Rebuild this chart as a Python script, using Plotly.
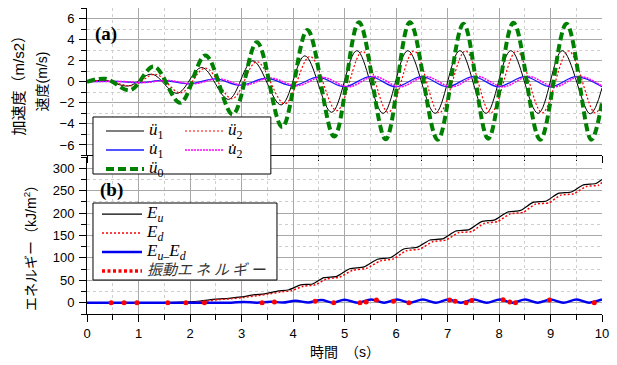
import plotly.graph_objects as go

# ---------------- data ----------------
# panel (a): extremes of each response curve
t_a1 = [0, 0.35, 0.81, 1.26, 1.75, 2.23, 2.75, 3.22, 3.77, 4.23, 4.75, 5.24, 5.75, 6.23, 6.76, 7.24, 7.75, 8.23, 8.76, 9.23, 9.77, 10.0]
a1 = [0, 0.12, -0.4, 0.72, -1.1, 1.35, -1.67, 1.98, -2.2, 2.46, -2.9, 2.95, -3.0, 2.95, -3.0, 2.95, -3.0, 2.95, -3.0, 2.95, -3.05, -0.6]

t_a2 = [0, 0.4, 0.88, 1.33, 1.82, 2.3, 2.82, 3.3, 3.84, 4.33, 4.85, 5.35, 5.85, 6.35, 6.84, 7.35, 7.84, 8.34, 8.84, 9.35, 9.86, 10.0]
a2 = [0, 0.1, -0.38, 0.7, -1.05, 1.3, -1.6, 1.9, -2.1, 2.4, -2.75, 2.88, -2.9, 2.92, -2.95, 2.92, -2.95, 2.92, -2.95, 2.92, -2.95, -2.2]

t_v1 = [0, 0.58, 1.03, 1.5, 1.99, 2.49, 2.98, 3.49, 4.0, 4.49, 5.0, 5.5, 5.99, 6.5, 7.0, 7.5, 7.99, 8.5, 9.0, 9.5, 10.0]
v1 = [0, 0.03, -0.08, 0.12, -0.2, 0.27, -0.33, 0.33, -0.38, 0.43, -0.48, 0.49, -0.48, 0.49, -0.48, 0.49, -0.48, 0.49, -0.48, 0.49, -0.48]

t_v2 = [0, 0.65, 1.1, 1.57, 2.06, 2.56, 3.05, 3.56, 4.07, 4.57, 5.08, 5.58, 6.08, 6.58, 7.08, 7.58, 8.08, 8.58, 9.08, 9.58, 10.0]
v2 = [0, 0.03, -0.08, 0.12, -0.2, 0.27, -0.33, 0.35, -0.38, 0.43, -0.48, 0.5, -0.48, 0.5, -0.48, 0.5, -0.48, 0.5, -0.48, 0.5, -0.42]

t_a0 = [0, 0.36, 0.84, 1.3, 1.81, 2.3, 2.83, 3.3, 3.79, 4.28, 4.8, 5.28, 5.8, 6.27, 6.81, 7.31, 7.79, 8.28, 8.8, 9.31, 9.79, 10.0]
a0 = [0, 0.28, -0.8, 1.45, -2.0, 2.5, -3.1, 3.75, -4.3, 4.9, -5.2, 5.65, -5.45, 5.65, -5.5, 5.5, -5.4, 5.6, -5.5, 5.5, -5.5, -2.0]

# panel (b): energies
t_eu = [0, 1.5, 1.95, 2.2, 2.5, 2.75, 3.0, 3.25, 3.45, 3.7, 3.92, 4.15, 4.38, 4.6, 4.85, 5.1, 5.38, 5.64, 5.9,
        6.15, 6.42, 6.66, 6.92, 7.16, 7.42, 7.66, 7.92, 8.16, 8.42, 8.66, 8.92, 9.15, 9.4, 9.64, 9.88, 10.0]
eu = [0, 0, 2, 4, 8, 10, 13, 18, 20, 26, 29, 40, 42, 56, 59, 76, 80, 97, 101,
      120, 124, 140, 143, 160, 163, 181, 185, 202, 206, 224, 227, 244, 247, 263, 266, 275]

t_ed = [0, 1.5, 2.0, 2.25, 2.55, 2.8, 3.05, 3.3, 3.5, 3.75, 3.97, 4.2, 4.43, 4.65, 4.9, 5.15, 5.43, 5.69, 5.95,
        6.2, 6.47, 6.71, 6.97, 7.21, 7.47, 7.71, 7.97, 8.21, 8.47, 8.71, 8.97, 9.2, 9.45, 9.69, 9.93, 10.0]
ed = [0, 0, 1, 3, 7, 9, 12, 16, 19, 24, 27, 37, 40, 53, 57, 72, 77, 93, 98,
      116, 120, 136, 140, 156, 159, 177, 181, 198, 202, 220, 223, 240, 243, 259, 262, 268]

t_diff = [0, 2.5, 2.8, 3.05, 3.3, 3.57, 3.8, 4.05, 4.3, 4.55, 4.78, 5.0, 5.25, 5.52, 5.77, 6.02, 6.27, 6.52, 6.77,
          7.02, 7.26, 7.51, 7.76, 8.02, 8.26, 8.51, 8.75, 9.0, 9.25, 9.51, 9.75, 10.0]
diff = [0, 0, 0.3, 2, 0.3, 2.5, 0.5, 4.5, 0.7, 6, 0.3, 7, 0.3, 7.3, 0.3, 7.3, 0.3, 7.3, 0.3,
        7.3, 0.3, 7.3, 0.3, 7.3, 0.3, 7.3, 0.3, 7.3, 0.3, 7.3, 0.3, 7.3]

t_vib = [0.47, 0.72, 0.97, 1.57, 1.92, 2.28, 3.4, 3.64, 4.43, 4.79, 5.3, 5.42, 5.62, 5.95, 6.25,
         7.04, 7.15, 7.36, 7.47, 8.08, 8.21, 8.32, 8.98, 9.85]
vib = [0, 0, 0, 0, 0, 0, 0, 2, 3.7, 0, 0, 1.5, 6, 3.7, 0,
       6, 3.7, 0, 5, 6.7, 1.5, 0, 6, 0]

x_ticks = list(range(0, 11))

# ---------------- figure ----------------
SERIF = "Liberation Serif, Times New Roman, serif"
SANS = "Liberation Sans, Arial, Noto Sans CJK JP, sans-serif"
CJK = "Liberation Sans, Noto Sans CJK JP, sans-serif"


def lg(txt, size=17):
    return f'<span style="font-size:{size}px">{txt}</span>'


fig = go.Figure()

fig.add_trace(go.Scatter(x=t_a1, y=a1, mode="lines", line=dict(color="black", width=1, shape="spline"),
                         name=lg("<i>ü</i><sub>1</sub>"), legend="legend", xaxis="x", yaxis="y"))
fig.add_trace(go.Scatter(x=t_a2, y=a2, mode="lines", line=dict(color="red", width=1.2, dash="2px,2px", shape="spline"),
                         name=lg("<i>ü</i><sub>2</sub>"), legend="legend2", xaxis="x", yaxis="y"))
fig.add_trace(go.Scatter(x=t_v1, y=v1, mode="lines", line=dict(color="#1a1aff", width=1.3, shape="spline"),
                         name=lg("<i>u\u0307</i><sub>1</sub>"), legend="legend", xaxis="x", yaxis="y"))
fig.add_trace(go.Scatter(x=t_v2, y=v2, mode="lines", line=dict(color="#ff00ff", width=1.5, dash="2px,1px", shape="spline"),
                         name=lg("<i>u\u0307</i><sub>2</sub>"), legend="legend2", xaxis="x", yaxis="y"))
fig.add_trace(go.Scatter(x=t_a0, y=a0, mode="lines", line=dict(color="#008000", width=4, dash="8px,4px", shape="spline"),
                         name=lg("<i>ü</i><sub>0</sub>"), legend="legend", xaxis="x", yaxis="y"))

fig.add_trace(go.Scatter(x=t_eu, y=eu, mode="lines", line=dict(color="black", width=1.2, shape="spline", smoothing=0.6),
                         name=lg("<i>E</i><sub><i>u</i></sub>"), legend="legend3", xaxis="x2", yaxis="y2"))
fig.add_trace(go.Scatter(x=t_ed, y=ed, mode="lines", line=dict(color="red", width=1.5, dash="2px,2px", shape="spline", smoothing=0.6),
                         name=lg("<i>E</i><sub><i>d</i></sub>"), legend="legend3", xaxis="x2", yaxis="y2"))
fig.add_trace(go.Scatter(x=t_diff, y=diff, mode="lines", line=dict(color="#0000ee", width=2.5, shape="spline"),
                         name=lg("<i>E</i><sub><i>u</i>\u2013</sub><i>E</i><sub><i>d</i></sub>"), legend="legend3",
                         xaxis="x2", yaxis="y2"))
fig.add_trace(go.Scatter(x=[None], y=[None], mode="lines", line=dict(color="red", width=3.5, dash="3px,2.5px"),
                         name='<span style="font-size:15px;font-family:Noto Sans CJK JP;fill:#333"><i>振動エ ネ ル ギ ー</i></span>',
                         legend="legend3", xaxis="x2", yaxis="y2"))
fig.add_trace(go.Scatter(x=t_vib, y=vib, mode="markers", marker=dict(color="red", size=5),
                         showlegend=False, xaxis="x2", yaxis="y2"))

grid = dict(showgrid=True, gridcolor="#a8a8a8", gridwidth=1, zeroline=False, showline=True, linecolor="black",
            linewidth=1, ticks="outside", ticklen=7, tickcolor="black", tickwidth=1,
            tickfont=dict(family=SANS, size=13, color="black"))


def minor(d):
    return dict(dtick=d, ticks="outside", ticklen=5, tickcolor="black", showgrid=True,
                gridcolor="#cfcfcf", griddash="dot", gridwidth=1)


fig.update_layout(
    width=617, height=365,
    margin=dict(l=87, r=15, t=8, b=51),
    paper_bgcolor="white", plot_bgcolor="white",
    xaxis=dict(domain=[0, 1], anchor="y", range=[0, 10], tickvals=x_ticks, showticklabels=False,
               minor=minor(0.5), **grid),
    yaxis=dict(domain=[0.518, 1], anchor="x", range=[-7, 7], tick0=0, dtick=2, minor=minor(1),
               ticklabelstandoff=2, **grid),
    xaxis2=dict(domain=[0, 1], anchor="y2", range=[0, 10], tickvals=x_ticks, showticklabels=True,
                ticklabelstandoff=0, minor=minor(0.5), **grid),
    yaxis2=dict(domain=[0, 0.513], anchor="x2", range=[-25, 325], tick0=0, dtick=50, minor=minor(25),
                ticklabelstandoff=2, **grid),
    legend=dict(x=0.0272, y=0.6454, xanchor="left", yanchor="top", bgcolor="rgba(0,0,0,0)", borderwidth=0,
                itemwidth=38, font=dict(family=SERIF, size=11, color="black")),
    legend2=dict(x=0.1806, y=0.6454, xanchor="left", yanchor="top", bgcolor="rgba(0,0,0,0)", borderwidth=0,
                 itemwidth=38, font=dict(family=SERIF, size=11, color="black")),
    legend3=dict(x=0.0194, y=0.374, xanchor="left", yanchor="top", bgcolor="rgba(0,0,0,0)", borderwidth=0,
                 itemwidth=40, font=dict(family=SERIF, size=11, color="black")),
    showlegend=True,
)

# legend frames
fig.add_shape(type="rect", xref="paper", yref="paper", x0=0.01165, x1=0.357, y0=0.4575, y1=0.6438,
              line=dict(color="black", width=1), fillcolor="white", layer="above")
fig.add_shape(type="rect", xref="paper", yref="paper", x0=0.01165, x1=0.3689, y0=0.1111, y1=0.3627,
              line=dict(color="black", width=1), fillcolor="white", layer="above")

# panel labels
fig.add_annotation(x=0.0117, y=0.915, xref="paper", yref="paper", xanchor="left", yanchor="middle",
                   text="<b>(a)</b>", showarrow=False, font=dict(family=SERIF, size=19, color="black"))
fig.add_annotation(x=0.0214, y=0.4036, xref="paper", yref="paper", xanchor="left", yanchor="middle",
                   text="<b>(b)</b>", showarrow=False, font=dict(family=SERIF, size=19, color="black"))

# axis titles
fig.add_annotation(x=-0.134, y=0.76, xref="paper", yref="paper", xanchor="center", yanchor="middle",
                   text="加速度（m/s2）", textangle=-90, showarrow=False, font=dict(family=CJK, size=15, color="black"))
fig.add_annotation(x=-0.0874, y=0.76, xref="paper", yref="paper", xanchor="center", yanchor="middle",
                   text="速度(m/s)", textangle=-90, showarrow=False, font=dict(family=CJK, size=14, color="black"))
fig.add_annotation(x=-0.1107, y=0.229, xref="paper", yref="paper", xanchor="center", yanchor="middle",
                   text="エネルギー（kJ/m<sup>2</sup>）", textangle=-90, showarrow=False,
                   font=dict(family=CJK, size=14, color="black"))
fig.add_annotation(x=0.5, y=-0.124, xref="paper", yref="paper", xanchor="center", yanchor="middle",
                   text="時間　（s）", showarrow=False, font=dict(family=CJK, size=14, color="black"))

fig.write_html("out.html")
